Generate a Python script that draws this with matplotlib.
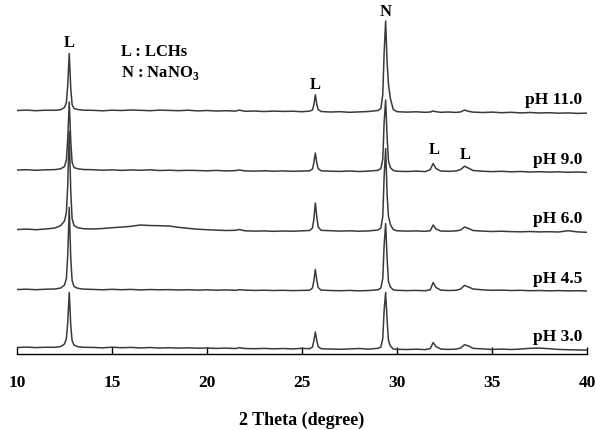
import numpy as np
import matplotlib.pyplot as plt

plt.rcParams['font.family'] = ['Liberation Serif', 'DejaVu Serif']
plt.rcParams['font.weight'] = 'bold'
plt.rcParams['mathtext.fontset'] = 'custom'
plt.rcParams['mathtext.rm'] = 'Liberation Serif:bold'

# 2 theta grid (degree), denser around the peaks
two_theta = [10.0, 10.5, 11.0, 11.5, 12.0, 12.3,
             12.5, 12.6, 12.67, 12.75, 12.83, 12.9, 13.0, 13.2, 13.5,
             14.0, 14.5, 15.0, 15.5, 16.0, 16.5, 17.0, 17.5, 18.0, 18.5, 19.0, 19.5,
             20.0, 20.5, 21.0, 21.5, 21.7, 22.0, 22.5, 23.0, 23.5, 24.0, 24.5, 25.0, 25.4,
             25.55, 25.62, 25.7, 25.78, 25.85, 26.0,
             26.5, 27.0, 27.5, 28.0, 28.5, 29.0,
             29.15, 29.25, 29.32, 29.4, 29.48, 29.55, 29.65, 29.8,
             30.0, 30.5, 31.0, 31.5, 31.75,
             31.9, 32.05, 32.3,
             32.7, 33.1, 33.35,
             33.55, 33.75, 34.0,
             34.5, 35.0, 35.5, 36.0, 36.5, 37.0, 37.5, 38.0, 38.5, 39.0, 39.5, 40.0]

# intensities (a.u.), bottom to top
ph30 = [0.0, 0.4, -0.1, 0.3, 0.2, 1.0,
        3.5, 9, 25, 55, 22, 7, 2.5, 0.8, 0.2,
        0.1, -0.3, 0.3, -0.2, 0.1, -0.4, 0.0, -0.5, -0.2, -0.6, -0.3, -0.7,
        -0.5, -0.9, -0.6, -1.0, -0.2, -1.0, -1.2, -0.9, -1.3, -1.0, -1.4, -0.8, -1.2,
        0.5, 6.5, 15.5, 6.5, 1, -1.2,
        -1.5, -1.8, -1.4, -1.0, -1.6, -0.8,
        0.5, 9, 37, 55, 26, 7, 1.5, -1.5,
        -1.8, -2.0, -1.7, -2.1, -1.0,
        5, 1.0, -1.5,
        -1.9, -1.6, -0.5,
        2.8, 1.6, -0.8,
        -1.4, -1.9, -1.6, -2.0, -1.5, -0.8, -0.6, -1.2, -1.9, -2.2, -2.4, -2.6]

ph45 = [0.0, 0.3, -0.2, 0.3, 0.5, 1.5,
        4.5, 11, 34, 82, 31, 9, 3, 1.2, 0.4,
        0.1, -0.3, 0.2, -0.2, 0.1, -0.4, 0.0, -0.3, -0.1, -0.5, -0.2, -0.6,
        -0.3, -0.7, -0.4, -0.8, -0.2, -0.6, -0.9, -0.7, -1.0, -0.8, -1.1, -0.9, -0.7,
        1.5, 8.5, 20, 9, 2, -0.6,
        -1.0, -1.2, -0.9, -1.3, -1.0, -0.2,
        1.5, 11, 44, 66, 30, 8, 2.5, -0.3,
        -0.8, -1.1, -0.9, -1.2, -0.2,
        7, 2.0, -0.6,
        -1.0, -0.8, 0.5,
        4.2, 2.6, 0.5,
        -0.3, -0.8, -0.6, -1.0, -0.8, -1.2, -1.0, -1.3, -1.1, -1.4, -1.2, -1.5]

ph60 = [0.0, 0.4, -0.2, 0.5, 1.5, 4.0,
        8.5, 17, 44, 98, 38, 11, 4, 1.8, 0.8,
        0.5, 1.0, 1.8, 2.4, 3.2, 4.5, 4.0, 3.8, 3.5, 2.2, 1.2, 0.3,
        -0.2, -0.6, -1.0, -0.8, 0.0, -1.3, -1.6, -1.4, -1.8, -1.5, -1.7, -1.3, -1.0,
        1.5, 10, 26.5, 12, 2.5, -0.8,
        -1.2, -1.6, -1.3, -1.7, -1.4, -0.5,
        1.5, 13, 52, 81, 34, 13, 5, 0,
        -1.3, -1.6, -1.4, -1.8, -1.2,
        4.5, 0.5, -1.5,
        -1.7, -1.4, -0.5,
        2.5, 1.2, -1.0,
        -1.6, -2.0, -1.7, -2.1, -2.3, -2.0, -2.4, -2.2, -2.5, -1.2, -2.4, -2.8]

ph90 = [0.0, 0.3, -0.3, 0.2, 0.4, 1.2,
        3.5, 10, 31, 68, 29, 8, 2.5, 1.2, 0.5,
        0.3, -0.2, 0.2, -0.4, 0.1, -0.3, 0.2, -0.5, -0.2, -0.6, -0.3, -0.5,
        -0.8, -0.4, -0.9, -0.6, 0.0, -0.9, -1.1, -0.8, -1.2, -0.9, -1.3, -1.0, -0.8,
        1, 7, 17, 7, 1.5, -0.8,
        -1.2, -1.4, -1.0, -1.5, -1.1, -0.3,
        1.5, 11, 47, 70, 32, 9, 2.5, -0.5,
        -1.2, -1.5, -1.1, -1.6, 0.5,
        6.5, 1.5, -1.0,
        -1.3, -1.0, 0.5,
        3.8, 2.0, -0.5,
        -1.2, -1.6, -1.3, -1.8, -1.5, -2.0, -1.7, -2.1, -1.8, -2.3, -2.0, -2.4]

ph110 = [0.0, 0.4, -0.2, 0.3, 0.2, 0.8,
         3, 8, 25, 57, 22, 6, 2, 1, 0.3,
         0.2, -0.3, 0.3, 0, 0.5, 0.2, -0.2, 0.4, 0.1, -0.2, 0.3, -0.4,
         0, -0.5, -0.2, -0.6, 0.4, -0.8, -0.5, -1.0, -0.6, -0.9, -0.7, -1.2, -0.6,
         0.5, 5.5, 15.7, 6, 1, -1.0,
         -1.5, -1.2, -1.8, -1.4, -1.0, 0.0,
         2, 16, 57, 89.5, 47, 26, 12, 1,
         -1.2, -1.6, -1.3, -1.8, -1.5,
         -0.5, -1.2, -1.8,
         -1.5, -1.9, -1.4,
         0.5, -0.8, -1.6,
         -2.0, -1.6, -2.2, -1.8, -2.4, -2.0, -2.5, -2.2, -2.7, -2.4, -2.9, -2.6]

patterns = [ph30, ph45, ph60, ph90, ph110]
labels = ["pH 3.0", "pH 4.5", "pH 6.0", "pH 9.0", "pH 11.0"]

# vertical stacking offsets
offsets = [6.5, 64.5, 124.5, 184, 243.5]

fig = plt.figure(figsize=(5.96, 4.30), dpi=100)
ax = fig.add_axes([0.0285, 0.1767, 0.9565, 0.814])

x = np.array(two_theta)
for data, off, lab in zip(patterns, offsets, labels):
    y = np.array(data) + off
    ax.plot(x, y, color='#3a3a3a', lw=1.1)
    ax.text(39.75, off + 10.5, lab, ha='right', va='center', fontsize=12.5)

# peak assignments
ax.text(12.75, 311, "L", ha='center', va='center', fontsize=12)
ax.text(25.7, 269, "L", ha='center', va='center', fontsize=12)
ax.text(29.4, 342, "N", ha='center', va='center', fontsize=12)
ax.text(31.95, 204, "L", ha='center', va='center', fontsize=12)
ax.text(33.6, 199, "L", ha='center', va='center', fontsize=12)

ax.text(15.5, 302, "L : LCHs", ha='left', va='center', fontsize=12)
ax.text(15.5, 281, "N : NaNO$_3$", ha='left', va='center', fontsize=12)

ax.set_xlim(10, 40)
ax.set_ylim(0, 350)
ax.set_xticks(range(10, 41, 5))
ax.set_yticks([])
ax.tick_params(axis='x', direction='in', length=5, width=1, pad=15, labelsize=12.5)
for s in ['left', 'right', 'top']:
    ax.spines[s].set_visible(False)
ax.spines['bottom'].set_linewidth(1.0)
ax.set_xlabel("2 Theta (degree)", fontsize=13, fontweight='bold', labelpad=15)

fig.savefig("out.png", dpi=100)
